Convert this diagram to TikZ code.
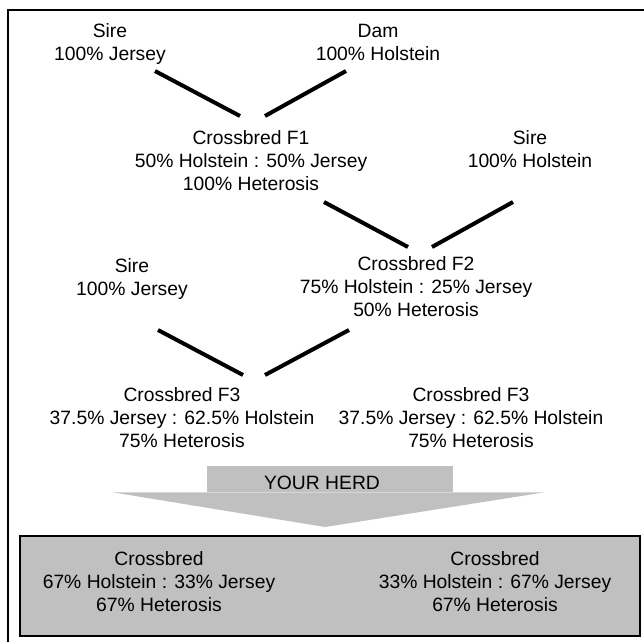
\documentclass[tikz,border=0pt]{standalone}
\usepackage{fontspec}
\setmainfont{Liberation Sans}
\definecolor{herdgray}{HTML}{C0C0C0}
\tikzset{
  breed/.style={align=center, inner sep=0pt, anchor=base, font=\fontsize{19.3}{23}\selectfont},
  cross/.style={line width=4pt},
}
\begin{document}
\begin{tikzpicture}[x=1pt, y=-1pt]
  \useasboundingbox (0,0) rectangle (644,642);
  \draw[line width=2.5pt] (8,642) -- (8,10) -- (644,10);
  % parents and crosses
  \node[breed] (sireA) at (110,60) {Sire\\100\% Jersey};
  \node[breed] (dam) at (378,60) {Dam\\100\% Holstein};
  \node[breed] (f1) at (251,190) {Crossbred F1\\50\% Holstein : 50\% Jersey\\100\% Heterosis};
  \node[breed] (sireB) at (530,167) {Sire\\100\% Holstein};
  \node[breed] (sireC) at (132,295) {Sire\\100\% Jersey};
  \node[breed] (f2) at (416,316) {Crossbred F2\\75\% Holstein : 25\% Jersey\\50\% Heterosis};
  \node[breed] (f3a) at (182,447) {Crossbred F3\\37.5\% Jersey : 62.5\% Holstein\\75\% Heterosis};
  \node[breed] (f3b) at (471,447) {Crossbred F3\\37.5\% Jersey : 62.5\% Holstein\\75\% Heterosis};
  \draw[cross] ([shift={(45,11)}]sireA.base) -- ([shift={(-11,-74)}]f1.base);
  \draw[cross] ([shift={(-32,11)}]dam.base) -- ([shift={(14,-74)}]f1.base);
  \draw[cross] ([shift={(73,12)}]f1.base) -- ([shift={(-8,-69)}]f2.base);
  \draw[cross] ([shift={(-17,35)}]sireB.base) -- ([shift={(16,-69)}]f2.base);
  \draw[cross] ([shift={(26,35)}]sireC.base) -- ([shift={(61,-72)}]f3a.base);
  \draw[cross] ([shift={(-67,14)}]f2.base) -- ([shift={(83,-72)}]f3a.base);
  % your herd
  \fill[herdgray] (207,466) rectangle (453,491.6);
  \fill[herdgray] (113,492.4) -- (544,492.4) -- (325,527) -- cycle;
  \node[breed] (herd) at (322,489) {YOUR HERD};
  \node[draw, fill=herdgray, line width=1.5pt, minimum width=620pt,
    minimum height=100pt, inner sep=0pt] (herdbox) at (330,586) {};
  \node[breed] (mixA) at (159,611) {Crossbred\\67\% Holstein : 33\% Jersey\\67\% Heterosis};
  \node[breed] (mixB) at (495,611) {Crossbred\\33\% Holstein : 67\% Jersey\\67\% Heterosis};
\end{tikzpicture}
\end{document}
